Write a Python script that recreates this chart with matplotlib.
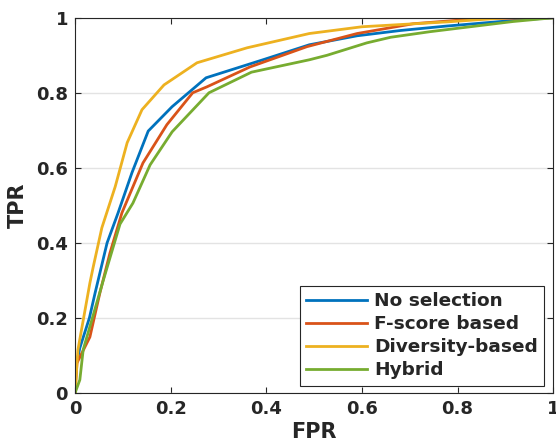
import matplotlib
matplotlib.use("Agg")
import matplotlib.pyplot as plt

# ROC curves
fpr_none = [0, 0.002, 0.01, 0.03, 0.042, 0.067, 0.09, 0.119, 0.153, 0.203, 0.274, 0.393, 0.49, 0.59, 0.68, 0.778, 0.937, 1.0]
tpr_none = [0, 0.07, 0.12, 0.2, 0.267, 0.40, 0.48, 0.587, 0.698, 0.763, 0.84, 0.888, 0.928, 0.952, 0.966, 0.978, 0.995, 1.0]

fpr_fscore = [0, 0.004, 0.031, 0.052, 0.073, 0.098, 0.142, 0.192, 0.246, 0.276, 0.366, 0.485, 0.59, 0.707, 0.847, 1.0]
tpr_fscore = [0, 0.08, 0.149, 0.267, 0.373, 0.48, 0.613, 0.715, 0.80, 0.816, 0.869, 0.923, 0.958, 0.984, 0.998, 1.0]

fpr_div = [0, 0.006, 0.031, 0.038, 0.056, 0.084, 0.109, 0.14, 0.186, 0.255, 0.36, 0.49, 0.60, 0.778, 0.904, 1.0]
tpr_div = [0, 0.115, 0.293, 0.336, 0.44, 0.55, 0.667, 0.755, 0.821, 0.88, 0.92, 0.958, 0.976, 0.989, 1.0, 1.0]

fpr_hyb = [0, 0.01, 0.017, 0.059, 0.094, 0.121, 0.157, 0.203, 0.28, 0.369, 0.49, 0.527, 0.61, 0.66, 0.743, 0.916, 1.0]
tpr_hyb = [0, 0.035, 0.115, 0.30, 0.45, 0.506, 0.608, 0.696, 0.80, 0.855, 0.888, 0.90, 0.933, 0.948, 0.963, 0.99, 1.0]

labels = ["No selection", "F-score based", "Diversity-based", "Hybrid"]
colors = ["#0072BD", "#D95319", "#EDB120", "#77AC30"]
ticks = [0, 0.2, 0.4, 0.6, 0.8, 1]
tick_labels = ["0", "0.2", "0.4", "0.6", "0.8", "1"]

txt = "#262626"
plt.rcParams["font.family"] = ["DejaVu Sans"]
plt.rcParams["font.weight"] = "bold"

fig = plt.figure(figsize=(5.56, 4.44), dpi=100)
ax = fig.add_axes([0.135, 0.115, 0.86, 0.845])

series = [(fpr_none, tpr_none), (fpr_fscore, tpr_fscore), (fpr_div, tpr_div), (fpr_hyb, tpr_hyb)]
for (x, y), lab, c in zip(series, labels, colors):
    ax.plot(x, y, color=c, lw=2, label=lab)

ax.set_xlim(0, 1)
ax.set_ylim(0, 1)
ax.set_xticks(ticks)
ax.set_xticklabels(tick_labels)
ax.set_yticks(ticks)
ax.set_yticklabels(tick_labels)
ax.tick_params(direction="in", top=True, right=True, length=4, width=0.8,
               colors=txt, labelsize=13, pad=5)
for lbl in ax.get_xticklabels() + ax.get_yticklabels():
    lbl.set_fontweight("bold")
for s in ax.spines.values():
    s.set_color(txt)
    s.set_linewidth(0.8)
ax.yaxis.grid(True, color="#e3e3e3", lw=1)
ax.set_axisbelow(True)

ax.set_xlabel("FPR", fontsize=15, fontweight="bold", color=txt, labelpad=3)
ax.set_ylabel("TPR", fontsize=15, fontweight="bold", color=txt, labelpad=6)

leg = ax.legend(loc="lower right", bbox_to_anchor=(0.981, 0.019),
                prop={"weight": "bold", "size": 13.3}, handlelength=3.25,
                fancybox=False, framealpha=1, edgecolor=txt, borderaxespad=0,
                borderpad=0.35, labelspacing=0.27, handletextpad=0.4)
leg.get_frame().set_linewidth(0.8)
for t in leg.get_texts():
    t.set_color(txt)

fig.savefig("out.png", dpi=100)
